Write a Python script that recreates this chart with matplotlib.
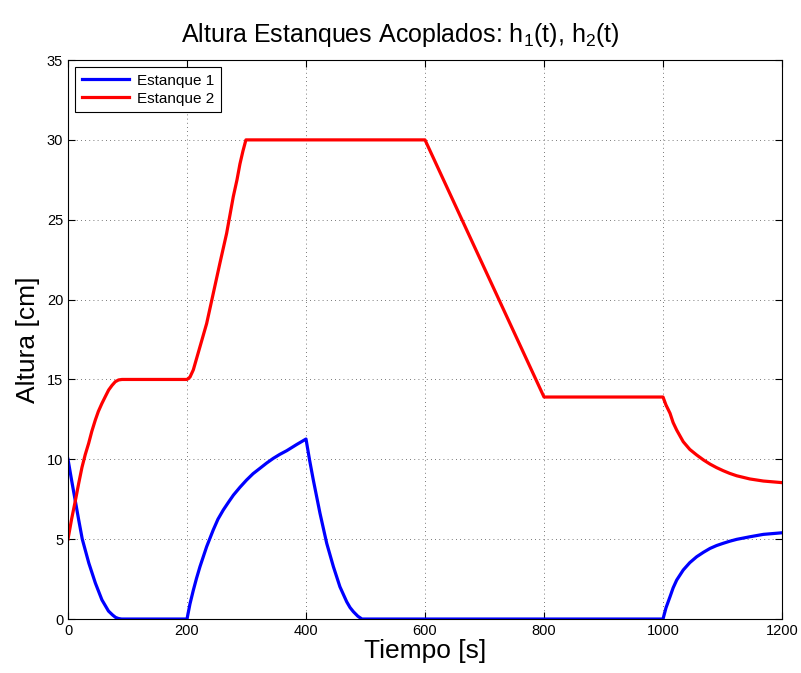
import matplotlib
matplotlib.use('Agg')
import matplotlib.pyplot as plt

plt.rcParams['font.family'] = ['Liberation Sans', 'DejaVu Sans']
plt.rcParams['mathtext.fontset'] = 'custom'
plt.rcParams['mathtext.rm'] = 'Liberation Sans'
plt.rcParams['mathtext.it'] = 'Liberation Sans'

# Estanque 1: tiempo [s] y altura [cm]
t1 = [0, 6, 12, 18, 24, 35, 46, 57, 68, 75, 80, 85, 90,
      200, 205, 210.6, 216, 221.8, 233, 244, 252, 261, 270, 278, 289, 300,
      311, 322.7, 334, 345, 356, 367.6, 384, 400,
      406, 412.3, 423.5, 434.8, 446, 457, 468.4, 474, 479.6, 487, 494,
      1000, 1005, 1011.8, 1017, 1023, 1034, 1045, 1056.6, 1068, 1079, 1090,
      1101, 1112, 1124, 1146, 1168.6, 1200]
h1 = [10, 8.7, 7.45, 6.2, 5.0, 3.5, 2.25, 1.2, 0.5, 0.25, 0.1, 0.03, 0,
      0, 0.95, 1.8, 2.55, 3.28, 4.53, 5.57, 6.25, 6.83, 7.33, 7.76, 8.25, 8.7,
      9.1, 9.44, 9.77, 10.06, 10.31, 10.54, 10.92, 11.27,
      9.95, 8.7, 6.62, 4.74, 3.28, 2.02, 1.08, 0.72, 0.46, 0.18, 0,
      0, 0.7, 1.4, 1.95, 2.44, 3.07, 3.53, 3.9, 4.18, 4.42, 4.6,
      4.74, 4.87, 4.99, 5.15, 5.3, 5.4]

# Estanque 2
t2 = [0, 6, 12.3, 18, 23.5, 29, 34.7, 40, 45.9, 51, 57, 63, 68.3, 74, 79.5, 85, 90.7,
      200, 205, 210.6, 216, 221.8, 233, 244.2, 255.4, 266.6, 277.8, 284, 289, 294, 299,
      600, 800, 1000,
      1005, 1011.8, 1017, 1023, 1034, 1045, 1056.6, 1068, 1079, 1090, 1101,
      1112, 1123.8, 1146, 1168.6, 1200]
h2 = [5, 6.25, 7.4, 8.5, 9.5, 10.3, 11.0, 11.75, 12.46, 13.0, 13.5, 13.95, 14.34,
      14.63, 14.86, 14.97, 15.0,
      15.0, 15.15, 15.6, 16.3, 17.05, 18.5, 20.4, 22.3, 24.15, 26.45, 27.5, 28.5, 29.3, 30.0,
      30.0, 13.9, 13.9,
      13.4, 12.88, 12.3, 11.83, 11.1, 10.62, 10.27, 9.96, 9.7, 9.48, 9.29,
      9.12, 8.97, 8.77, 8.64, 8.54]

fig = plt.figure(figsize=(8.01, 6.73), dpi=100)
ax = fig.add_axes([0.0849, 0.0802, 0.8914, 0.8306])

ax.plot(t1, h1, color='#0000ff', lw=2.3, label='Estanque 1',
        solid_joinstyle='round')
ax.plot(t2, h2, color='#ff0000', lw=2.3, label='Estanque 2',
        solid_joinstyle='round')

ax.set_xlim(0, 1200)
ax.set_ylim(0, 35)
ax.set_xticks(range(0, 1201, 200))
ax.set_yticks(range(0, 36, 5))
ax.grid(True, color='black', linestyle=(0, (1, 4)), linewidth=0.6, alpha=0.7)
ax.tick_params(direction='in', top=True, right=True, labelsize=10.5, length=5)
for s in ax.spines.values():
    s.set_linewidth(0.8)

ax.set_xlabel('Tiempo [s]', fontsize=19, labelpad=1)
ax.set_ylabel('Altura [cm]', fontsize=19, labelpad=5)
fig.text(0.5, 0.937, r'Altura Estanques Acoplados: h$_1$(t), h$_2$(t)',
         fontsize=18, ha='center', va='baseline')

leg = ax.legend(loc='upper left', fontsize=11, fancybox=False, framealpha=1,
                edgecolor='black', borderpad=0.45, handlelength=3.1,
                labelspacing=0.25, borderaxespad=0.45, handletextpad=0.5)
leg.get_frame().set_linewidth(0.8)

fig.savefig('out.png', dpi=100)
